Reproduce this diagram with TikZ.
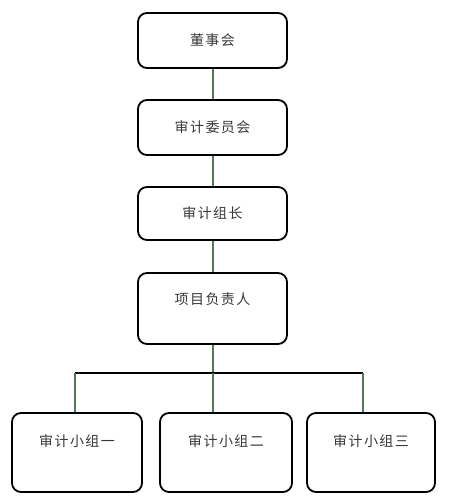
\documentclass[tikz,border=0pt]{standalone}
\usepackage{fontspec}
\setmainfont{Noto Sans CJK SC}
\usetikzlibrary{calc}
\usetikzlibrary{positioning}
\definecolor{linegreen}{RGB}{84,120,84}
\definecolor{txtgray}{RGB}{55,55,55}

\begin{document}
\begin{tikzpicture}[x=1pt, y=-1pt,
  box/.style={draw=black, line width=1.8pt, rounded corners=9pt, inner sep=0pt,
    text=txtgray, font=\fontsize{14}{14}\selectfont\addfontfeature{LetterSpace=10}},
  upper/.style={box, minimum width=149pt, minimum height=55pt},
  lower/.style={box, minimum width=130pt, minimum height=79pt, text height=33pt, text depth=46pt},
  link/.style={linegreen, line width=2pt}]
\useasboundingbox (0,0) rectangle (464,498);
\node[upper] (board) at (212.5,40.5) {董事会};
\node[upper] (committee) at (212.5,127.5) {审计委员会};
\node[upper, minimum height=53pt] (leader) at (212.5,213.5) {审计组长};
\node[upper, minimum height=71pt, text height=31pt, text depth=40pt] (head) at (212.5,308.5) {项目负责人};
\node[lower] (team1) at (77,452.5) {审计小组一};
\node[lower, minimum width=132pt] (team2) at (226,452.5) {审计小组二};
\node[lower, minimum width=128pt] (team3) at (371,452.5) {审计小组三};
\coordinate (busL) at (75,373);
\coordinate (busR) at (363,373);
\draw[link] (board) -- (committee);
\draw[link] (committee) -- (leader);
\draw[link] (leader) -- (head);
\draw[link] (head.south) -- (head.south |- busL);
\draw[black, line width=2pt] (busL) -- (busR);
\draw[link] (busL) -- (busL |- team1.north);
\draw[link] (head.south |- busL) -- (head.south |- team2.north);
\draw[link] (busR) -- (busR |- team3.north);
\end{tikzpicture}
\end{document}
